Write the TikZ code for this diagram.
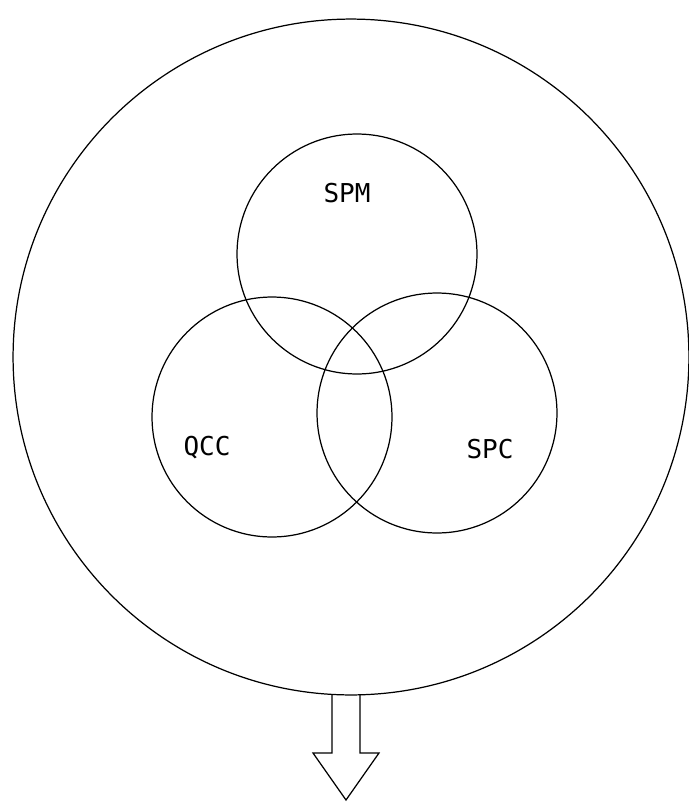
\documentclass[tikz,border=0pt]{standalone}
\usepackage{fontspec}
\setmonofont{DejaVu Sans Mono}

\begin{document}
\begin{tikzpicture}[x=0.02cm, y=-0.02cm,
  ring/.style={draw, circle, line width=0.7pt, inner sep=0pt},
  tag/.style={font=\ttfamily\fontsize{14.8}{15}\selectfont, inner sep=0pt}]
  \useasboundingbox (0,0) rectangle (689,802);
  % outer set and the three inner ones
  \node[ring, minimum size=13.52cm] (env) at (351,357) {};
  \node[ring, minimum size=4.8cm] (spm) at (357,254) {};
  \node[ring, minimum size=4.8cm] (qcc) at (272,417) {};
  \node[ring, minimum size=4.8cm] (spc) at (437,413) {};
  \node[tag] (spmlab) at (347,193) {SPM};
  \node[tag] (qcclab) at (207,448) {QCC};
  \node[tag] (spclab) at (490,449) {SPC};
  % hollow arrow out of the bottom
  \coordinate (tip) at (346,800);
  \draw[line width=0.7pt, line join=miter]
    (332,694) -- (332,753) -- (313,753) -- (tip) -- (379,753)
    -- (360,753) -- (360,694);
\end{tikzpicture}
\end{document}
